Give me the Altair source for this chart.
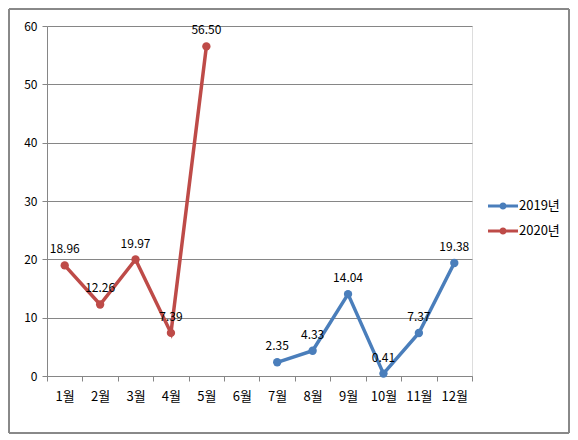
import altair as alt
import pandas as pd

months = ["1월", "2월", "3월", "4월", "5월", "6월", "7월", "8월", "9월", "10월", "11월", "12월"]
series = ["2019년", "2020년"]
v2019 = [None, None, None, None, None, None, 2.35, 4.33, 14.04, 0.41, 7.37, 19.38]
v2020 = [18.96, 12.26, 19.97, 7.39, 56.50, None, None, None, None, None, None, None]
colors = ["#4a7ebb", "#be4b48"]

rows = []
for name, vals in zip(series, [v2019, v2020]):
    for m, v in zip(months, vals):
        if v is not None:
            rows.append({"month": m, "series": name, "value": v})
df = pd.DataFrame(rows)

FONT = "Noto Sans CJK KR"
W, H = 425, 350

legend_path = ("M-1,-0.1 L1,-0.1 L1,0.1 L-1,0.1 Z "
               "M-0.24,0 A0.24,0.24 0 1,1 0.24,0 A0.24,0.24 0 1,1 -0.24,0 Z")

xscale = alt.Scale(domain=months, paddingInner=0, paddingOuter=0)
x = alt.X("month:N", sort=months, title=None, scale=xscale,
          axis=alt.Axis(tickBand="extent", labelAngle=0, labelFont=FONT, labelFontSize=13,
                        labelColor="#000000", labelPadding=9, tickSize=5,
                        tickColor="#868686", domainColor="#868686", grid=False))
y = alt.Y("value:Q", title=None,
          scale=alt.Scale(domain=[0, 60], nice=False),
          axis=alt.Axis(values=[0, 10, 20, 30, 40, 50, 60], labelFont=FONT, labelFontSize=12,
                        labelColor="#000000", labelPadding=5, tickSize=5,
                        tickColor="#868686", domainColor="#868686",
                        gridColor="#868686", gridWidth=1))
color = alt.Color("series:N", title=None,
                  scale=alt.Scale(domain=series, range=colors),
                  legend=alt.Legend(orient="none", legendX=441, legendY=170,
                                    symbolType=legend_path, symbolSize=900,
                                    symbolStrokeWidth=0, labelFont=FONT, labelFontSize=13,
                                    labelColor="#000000", labelOffset=1, clipHeight=20,
                                    rowPadding=5))

base = alt.Chart(df)
lines = base.mark_line(strokeWidth=3.5, point=alt.OverlayMarkDef(size=70, filled=True, opacity=1)).encode(
    x=x, y=y, color=color, detail="series:N")
labels = base.mark_text(font=FONT, fontSize=12, baseline="middle", dy=-16, color="#000000").encode(
    x=alt.X("month:N", sort=months, scale=xscale), y="value:Q",
    text=alt.Text("value:Q", format=".2f"))

frame = alt.Chart(df).mark_rect(fill=None, stroke="#888888", strokeWidth=1).encode(
    x=alt.value(-38), x2=alt.value(522), y=alt.value(-17), y2=alt.value(407))

chart = alt.layer(frame, lines, labels).properties(
    width=W, height=H,
    autosize=alt.AutoSizeParams(type="none"),
    padding={"left": 39, "top": 18, "right": 98, "bottom": 58},
).configure_view(strokeWidth=0, stroke="transparent").configure(background="#ffffff")

chart.save("out.html", embed_options={"renderer": "svg", "actions": False})
